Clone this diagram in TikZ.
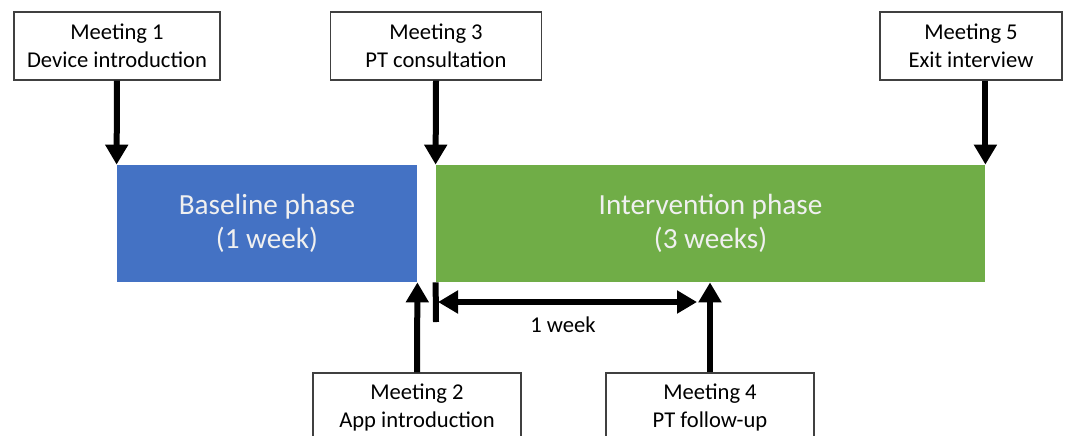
\documentclass[tikz,border=0pt]{standalone}
\usepackage{fontspec}
\setmainfont{Carlito}
\usetikzlibrary{arrows.meta}

\definecolor{baseblue}{HTML}{4472C4}
\definecolor{intgreen}{HTML}{70AD47}

\begin{document}
\begin{tikzpicture}[x=0.5pt,y=-0.5pt,
  meetbox/.style={draw=black!75, line width=0.6pt, fill=white, align=center,
    minimum height=34pt, inner sep=1pt, font=\fontsize{11.3}{14}\selectfont},
  phasebox/.style={align=center, minimum height=58.5pt, inner sep=0pt,
    text=white!94!black, font=\fontsize{14.6}{17}\selectfont},
  arr/.style={line width=3pt, -{Triangle[width=11pt,length=10pt]}},
  dblarr/.style={line width=3pt, {Triangle[width=11pt,length=10pt]}-{Triangle[width=11pt,length=10pt]}},
  bar/.style={line width=3pt}]
\useasboundingbox (0,0) rectangle (1075,435);
\clip (0,0) rectangle (1075,435);

% phases
\node[phasebox, fill=baseblue, minimum width=150pt] (base) at (267,223.5) {Baseline phase\\(1 week)};
\node[phasebox, fill=intgreen, minimum width=274.5pt] (inter) at (710.5,223.5) {Intervention phase\\(3 weeks)};

% meetings
\node[meetbox, minimum width=103pt] (m1) at (117,46) {Meeting 1\\Device introduction};
\node[meetbox, minimum width=105.5pt] (m3) at (436,46) {Meeting 3\\PT consultation};
\node[meetbox, minimum width=91pt] (m5) at (971,46) {Meeting 5\\Exit interview};
\node[meetbox, minimum width=104pt] (m2) at (417,407) {Meeting 2\\App introduction};
\node[meetbox, minimum width=104pt] (m4) at (710,407) {Meeting 4\\PT follow-up};

\draw[arr] (m1.south) -- (base.north west);
\draw[arr] (m3.south) -- (inter.north west);
\draw[arr] (m5.south -| inter.north east) -- (inter.north east);
\draw[arr] (m2.north) -- (base.south east);
\draw[arr] (m4.north) -- (inter.south -| m4.north);

% one week
\coordinate (barend) at (436,322);
\coordinate (wk1) at (438,302);
\coordinate (wk2) at (697,302);
\draw[bar] (inter.south west) -- (barend);
\draw[dblarr] (wk1) -- (wk2);
\node[font=\fontsize{11.3}{14}\selectfont] (wk) at (563,325) {1 week};
\end{tikzpicture}
\end{document}
